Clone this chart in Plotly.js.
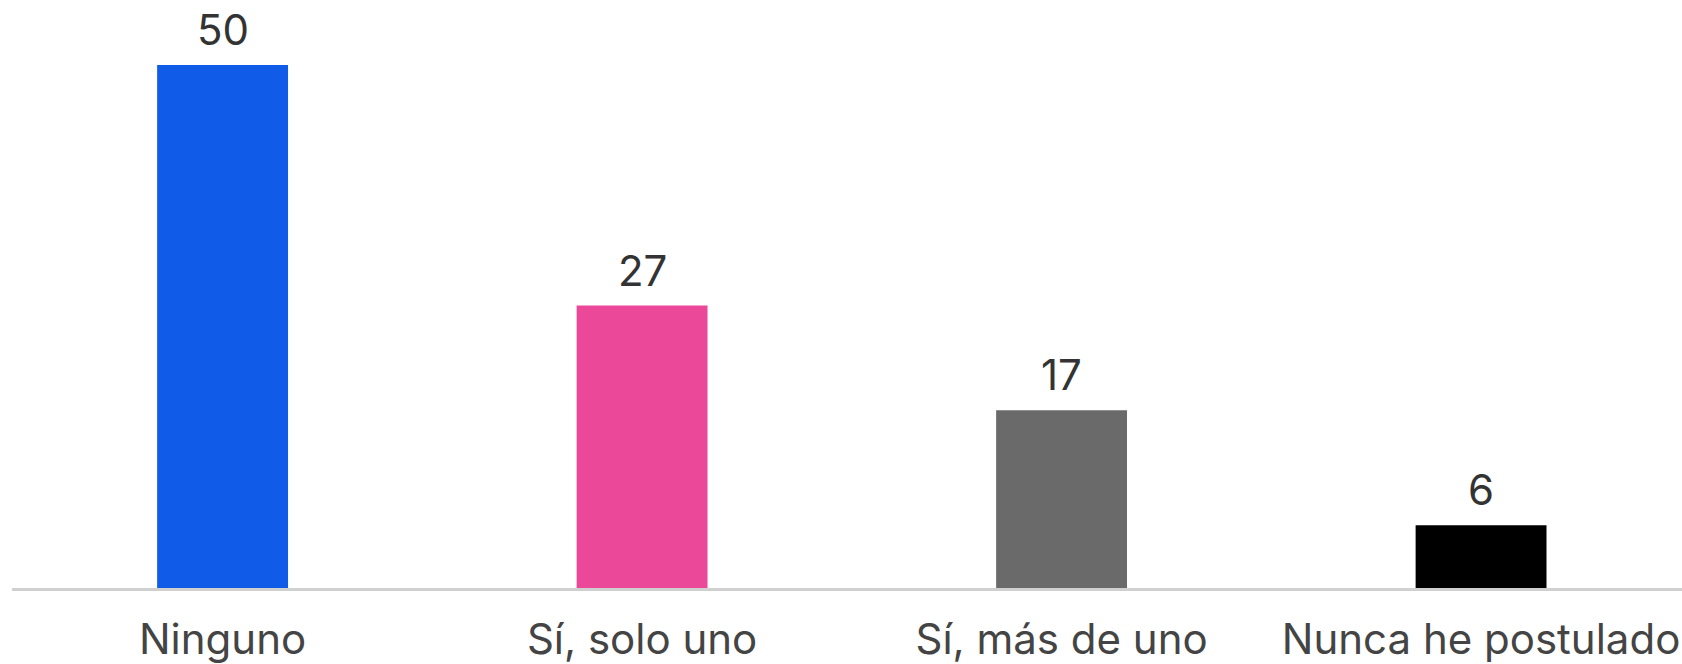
<!DOCTYPE html>
<html>
<head>
<meta charset="utf-8">
<script src="https://cdn.plot.ly/plotly-3.0.1.min.js"></script>
<style>html,body{margin:0;padding:0;background:#fff;}#chart{width:1682px;height:664px;}</style>
</head>
<body>
<div id="chart"></div>
<script>
const categories = ["Ninguno", "Sí, solo uno", "Sí, más de uno", "Nunca he postulado"];
const values = [50, 27, 17, 6];
const barColors = ["#105BE8", "#EC4899", "#6A6A6A", "#000000"];

const trace = {
  type: "bar",
  x: categories,
  y: values,
  marker: { color: barColors },
  width: 0.312,
  hoverinfo: "none"
};

const annotations = categories.map((c, i) => ({
  x: c, y: values[i], xref: "x", yref: "y",
  text: String(values[i]),
  showarrow: false,
  yanchor: "bottom",
  yshift: 8,
  font: { family: "Inter, sans-serif", size: 42, color: "#333333" }
}));

const layout = {
  width: 1682, height: 664,
  margin: { l: 12, r: 0, t: 13, b: 76 },
  paper_bgcolor: "#ffffff",
  plot_bgcolor: "#ffffff",
  showlegend: false,
  xaxis: {
    type: "category",
    range: [-0.502, 3.479],
    showline: true, linecolor: "#d0d0d0", linewidth: 2.5,
    showgrid: false, zeroline: false,
    ticks: "", ticklabelstandoff: 13,
    tickfont: { family: "Inter, sans-serif", size: 42, color: "#444444" },
    fixedrange: true
  },
  yaxis: {
    range: [0, 54.97],
    visible: false, showgrid: false, zeroline: false, fixedrange: true
  },
  annotations: annotations
};

Plotly.newPlot("chart", [trace], layout, { displayModeBar: false, staticPlot: true });
</script>
</body>
</html>
